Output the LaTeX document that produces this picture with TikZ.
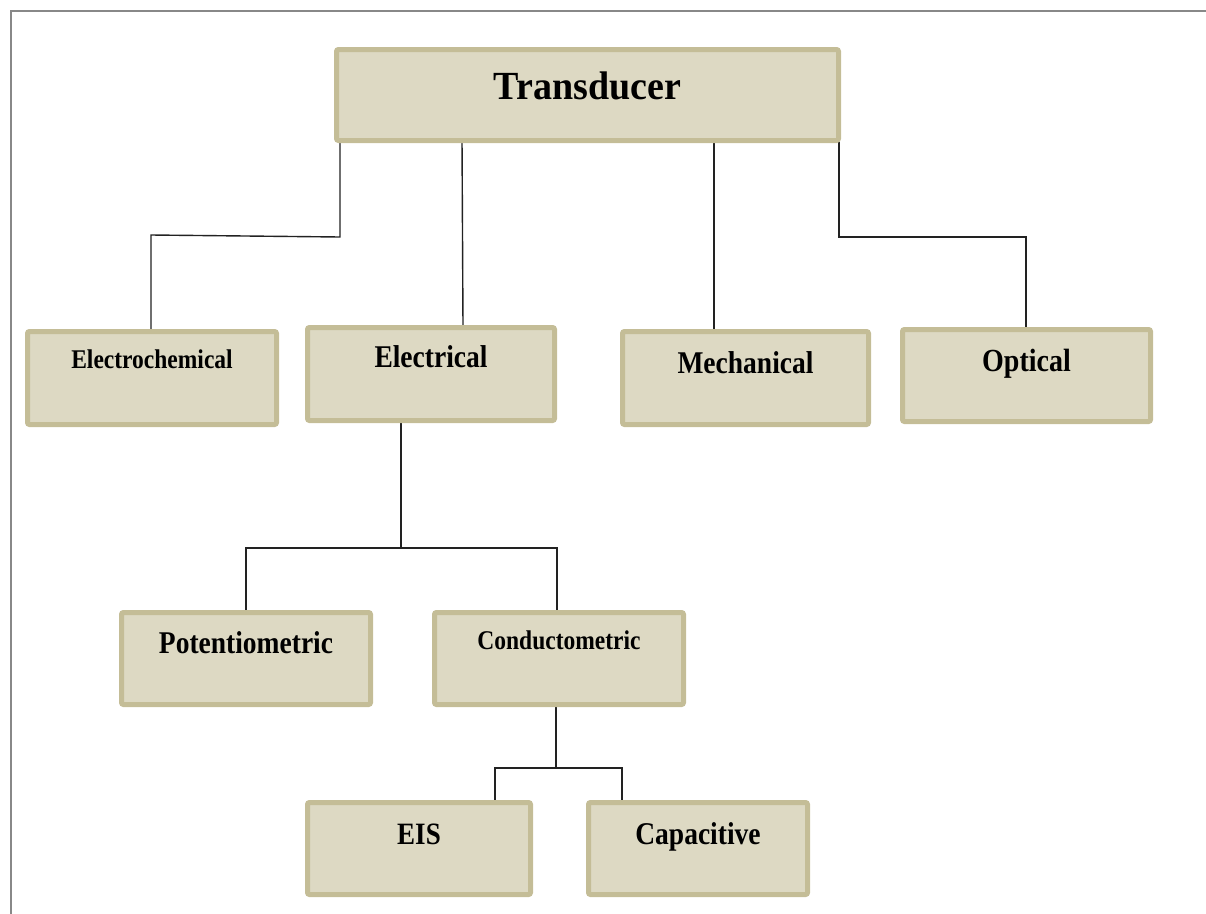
\documentclass[tikz,border=0pt]{standalone}
\usepackage{fontspec}
\setmainfont{Liberation Serif}
\usepackage{graphicx}
\definecolor{boxfill}{HTML}{DDD9C3}
\definecolor{boxline}{HTML}{C4BD97}
\definecolor{framec}{HTML}{888888}
\definecolor{connc}{HTML}{222222}
\newcommand{\stretchlbl}[2]{{\fontsize{#1}{#1}\selectfont\scalebox{1}[1.15]{#2}}}
\begin{document}
\begin{tikzpicture}[x=1pt,y=-1pt,
  box/.style={draw=boxline, fill=boxfill, line width=5pt, rounded corners=2pt, inner sep=0pt},
  lbl/.style={font=\bfseries, anchor=base, inner sep=0pt, text=black},
  conn/.style={draw=connc, line width=1.4pt}]
\useasboundingbox (0,0) rectangle (1206,913);
\draw[framec, line width=2pt] (11,914) -- (11,11) -- (1206,11);

% junction coordinates
\coordinate (j1) at (340,237);
\coordinate (j2) at (151,235);
\coordinate (j3) at (839,237);
\coordinate (j4) at (1026,237);
\coordinate (j5) at (401,548);
\coordinate (j6) at (556,768);

% connectors (drawn first, boxes cover their ends)
\draw[conn] (340,140) -- (j1) -- (j2) -- (151,331);
\draw[conn] (462,140) -- (463,327);
\draw[conn] (714,140) -- (714,331);
\draw[conn] (j3 |- 0,140) -- (j3) -- (j4) -- (1026,329);
\draw[conn] (401,421) -- (j5);
\draw[conn] (246,612) -- (246,548) -- (557,548) -- (557,612);
\draw[conn] (556,705) -- (j6);
\draw[conn] (495,802) -- (495,768) -- (622,768) -- (622,802);

% boxes
\node[box, minimum width=502pt, minimum height=91pt] (trans) at (587.5,95) {};
\node[box, minimum width=249pt, minimum height=93pt] (echem) at (152,378) {};
\node[box, minimum width=247pt, minimum height=93pt] (elec) at (431,374) {};
\node[box, minimum width=246pt, minimum height=93pt] (mech) at (745.5,378) {};
\node[box, minimum width=248pt, minimum height=92pt] (opt) at (1026.5,375.5) {};
\node[box, minimum width=249pt, minimum height=92pt] (pot) at (246,658.5) {};
\node[box, minimum width=249pt, minimum height=92pt] (cond) at (559,658.5) {};
\node[box, minimum width=223pt, minimum height=92pt] (eis) at (419,848.5) {};
\node[box, minimum width=219pt, minimum height=92pt] (cap) at (698,848.5) {};

% labels
\node[lbl] (ltrans) at ([yshift=-52pt]trans.north) {\fontsize{38}{38}\selectfont\scalebox{1}[1.05]{Transducer}};
\node[lbl] (lechem) at ([yshift=-39pt]echem.north) {\stretchlbl{23.5}{Electrochemical}};
\node[lbl] (lelec) at ([yshift=-42pt]elec.north) {\stretchlbl{27.5}{Electrical}};
\node[lbl] (lmech) at ([yshift=-44pt]mech.north) {\stretchlbl{27.5}{Mechanical}};
\node[lbl] (lopt) at ([yshift=-44pt]opt.north) {\stretchlbl{28}{Optical}};
\node[lbl] (lpot) at ([yshift=-43pt]pot.north) {\stretchlbl{27.5}{Potentiometric}};
\node[lbl] (lcond) at ([yshift=-39pt]cond.north) {\stretchlbl{23.5}{Conductometric}};
\node[lbl] (leis) at ([yshift=-44pt]eis.north) {\stretchlbl{27}{EIS}};
\node[lbl] (lcap) at ([yshift=-44pt]cap.north) {\stretchlbl{27.5}{Capacitive}};
\end{tikzpicture}
\end{document}
